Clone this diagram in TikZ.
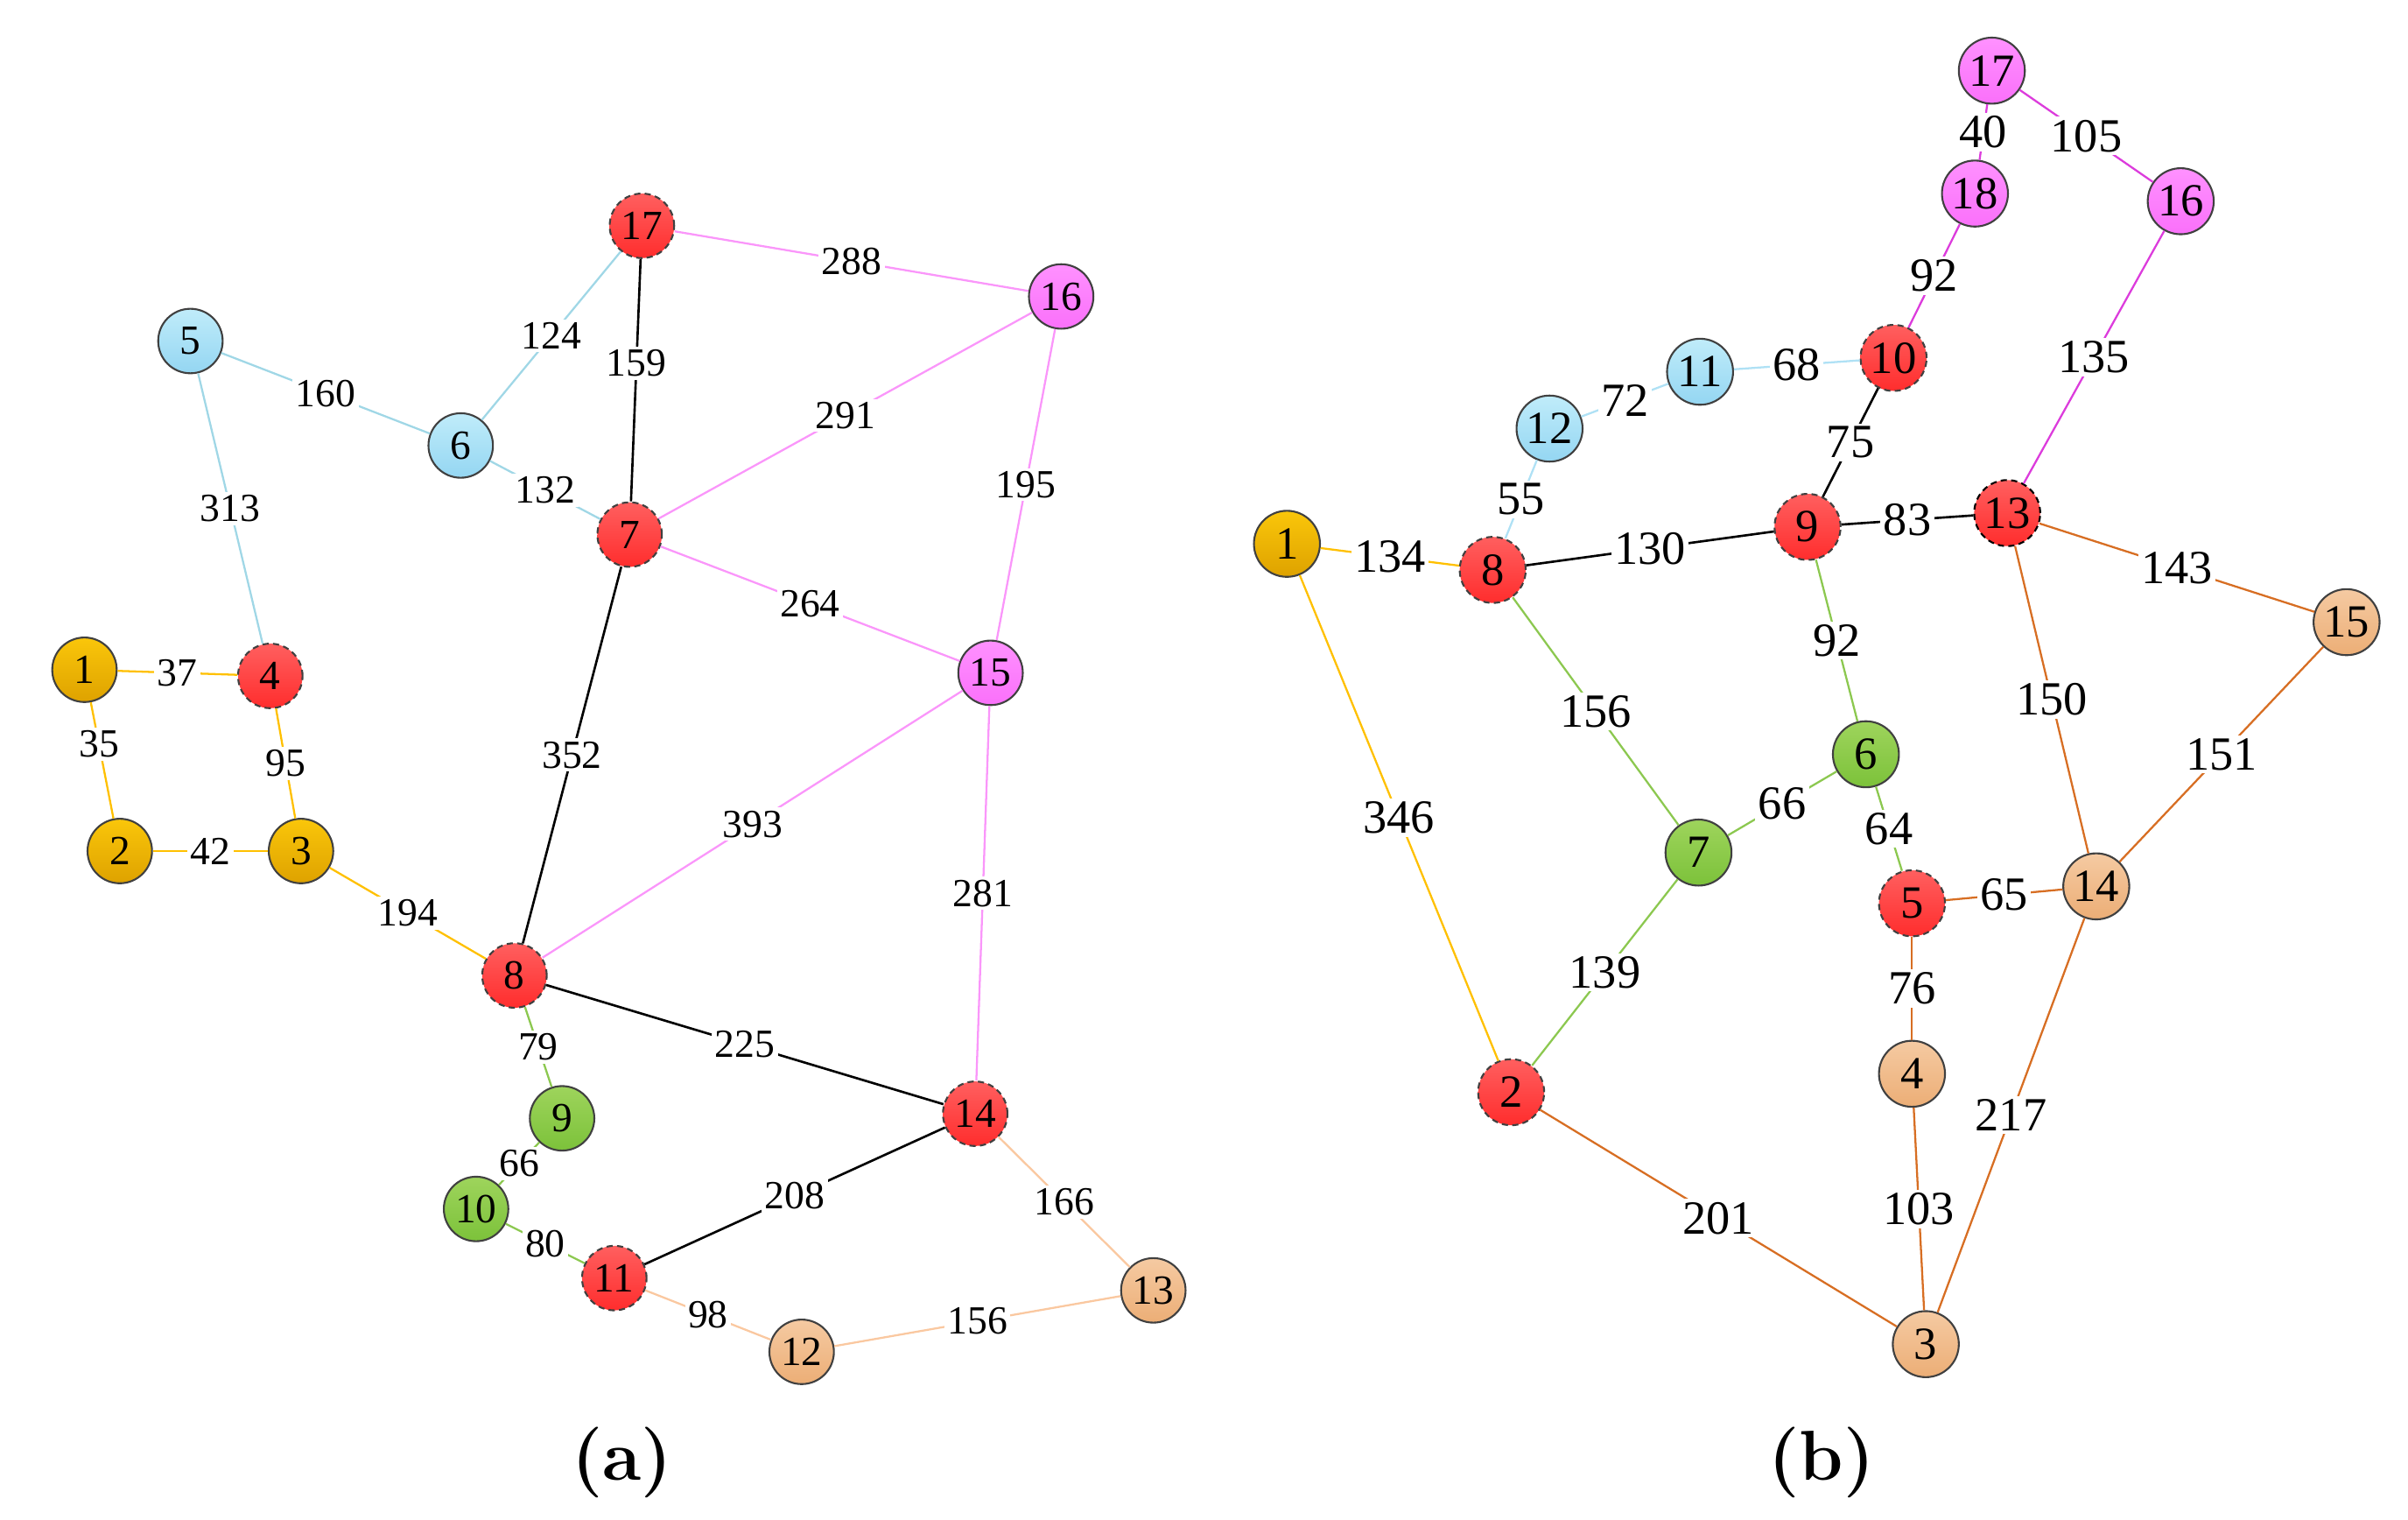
\documentclass[tikz,border=0pt]{standalone}
\usepackage{fontspec}
\newfontfamily\tnr{Liberation Serif}
\definecolor{gtop}{RGB}{250,198,10}\definecolor{gbot}{RGB}{222,162,0}
\definecolor{rtop}{RGB}{255,95,95}\definecolor{rbot}{RGB}{255,45,45}
\definecolor{btop}{RGB}{192,236,250}\definecolor{bbot}{RGB}{148,214,242}
\definecolor{mtop}{RGB}{255,145,255}\definecolor{mbot}{RGB}{250,112,250}
\definecolor{ntop}{RGB}{158,212,92}\definecolor{nbot}{RGB}{124,194,58}
\definecolor{ptop}{RGB}{245,202,162}\definecolor{pbot}{RGB}{236,174,118}
\definecolor{bord}{RGB}{64,64,64}
\definecolor{egold}{RGB}{255,192,0}
\definecolor{eblue}{RGB}{160,215,230}
\definecolor{epink}{RGB}{250,150,250}
\definecolor{egreen}{RGB}{140,200,80}
\definecolor{epeach}{RGB}{250,200,160}
\definecolor{emag}{RGB}{220,60,220}
\definecolor{eorange}{RGB}{215,110,35}
\definecolor{ebluel}{RGB}{175,225,245}
\begin{document}
\begin{tikzpicture}[x=0.5pt,y=-0.5pt,
  nd/.style={circle, draw=bord, line width=0.6pt, minimum size=21pt, inner sep=0pt, font=\tnr\fontsize{13.5}{13.5}\selectfont},
  ndb/.style={nd, minimum size=21.5pt, font=\tnr\fontsize{15}{15}\selectfont},
  ngold/.style={top color=gtop, bottom color=gbot},
  nred/.style={top color=rtop, bottom color=rbot, dash pattern=on 2pt off 1.4pt},
  nblue/.style={top color=btop, bottom color=bbot},
  nmag/.style={top color=mtop, bottom color=mbot},
  ngrn/.style={top color=ntop, bottom color=nbot},
  npch/.style={top color=ptop, bottom color=pbot},
  lbl/.style={fill=white, inner sep=1pt, font=\tnr\fontsize{13}{13}\selectfont},
  lblb/.style={fill=white, inner sep=1pt, font=\tnr\fontsize{15.5}{15.5}\selectfont},
  edge/.style={line width=0.65pt},
  cgold/.style={edge, draw=egold},
  cblue/.style={edge, draw=eblue},
  cbluel/.style={edge, draw=ebluel},
  cpink/.style={edge, draw=epink},
  cgreen/.style={edge, draw=egreen},
  cpeach/.style={edge, draw=epeach},
  cmag/.style={edge, draw=emag},
  corange/.style={edge, draw=eorange},
  cblack/.style={edge, draw=black, line width=0.75pt},
  captxt/.style={font=\fontsize{23}{23}\selectfont\bfseries}
]
\useasboundingbox (0,0) rectangle (1568,989);
% ---------------- (a) ----------------
\node[nd,ngold] (a1) at (55,436) {1};
\node[nd,ngold] (a2) at (78,554) {2};
\node[nd,ngold] (a3) at (196,554) {3};
\node[nd,nred] (a4) at (176,440) {4};
\node[nd,nblue] (a5) at (124,222) {5};
\node[nd,nblue] (a6) at (300,290) {6};
\node[nd,nred] (a7) at (410,348) {7};
\node[nd,nred] (a8) at (335,635) {8};
\node[nd,ngrn] (a9) at (366,728) {9};
\node[nd,ngrn] (a10) at (310,787) {10};
\node[nd,nred] (a11) at (400,832) {11};
\node[nd,npch] (a12) at (522,880) {12};
\node[nd,npch] (a13) at (751,840) {13};
\node[nd,nred] (a14) at (635,725) {14};
\node[nd,nmag] (a15) at (645,438) {15};
\node[nd,nmag] (a16) at (691,193) {16};
\node[nd,nred] (a17) at (418,147) {17};

\draw[cgold] (a1) -- node[lbl]{37} (a4);
\draw[cgold] (a1) -- node[lbl,pos=0.36]{35} (a2);
\draw[cgold] (a2) -- node[lbl]{42} (a3);
\draw[cgold] (a4) -- node[lbl]{95} (a3);
\draw[cblue] (a5) -- node[lbl]{313} (a4);
\draw[cblue] (a5) -- node[lbl]{160} (a6);
\draw[cblue] (a6) -- node[lbl]{124} (a17);
\draw[cblue] (a6) -- node[lbl]{132} (a7);
\draw[cblack] (a17) -- node[lbl,pos=0.43]{159} (a7);
\draw[cpink] (a17) -- node[lbl]{288} (a16);
\draw[cpink] (a7) -- node[lbl]{291} (a16);
\draw[cpink] (a7) -- node[lbl]{264} (a15);
\draw[cpink] (a16) -- node[lbl]{195} (a15);
\draw[cblack] (a7) -- node[lbl]{352} (a8);
\draw[cgold] (a3) -- node[lbl]{194} (a8);
\draw[cpink] (a15) -- node[lbl]{393} (a8);
\draw[cpink] (a15) -- node[lbl]{281} (a14);
\draw[cblack] (a8) -- node[lbl]{225} (a14);
\draw[cgreen] (a8) -- node[lbl]{79} (a9);
\draw[cgreen] (a9) -- node[lbl]{66} (a10);
\draw[cgreen] (a10) -- node[lbl]{80} (a11);
\draw[cblack] (a11) -- node[lbl]{208} (a14);
\draw[cpeach] (a11) -- node[lbl]{98} (a12);
\draw[cpeach] (a12) -- node[lbl]{156} (a13);
\draw[cpeach] (a14) -- node[lbl]{166} (a13);

\node[captxt] (capa) at (405,952) {(a)};

% ---------------- (b) ----------------
\node[ndb,ngold] (b1) at (838,354) {1};
\node[ndb,nred] (b2) at (984,711) {2};
\node[ndb,npch] (b3) at (1254,875) {3};
\node[ndb,npch] (b4) at (1245,699) {4};
\node[ndb,nred] (b5) at (1245,588) {5};
\node[ndb,ngrn] (b6) at (1215,491) {6};
\node[ndb,ngrn] (b7) at (1106,555) {7};
\node[ndb,nred] (b8) at (972,371) {8};
\node[ndb,nred] (b9) at (1177,343) {9};
\node[ndb,nred] (b10) at (1233,233) {10};
\node[ndb,nblue] (b11) at (1107,242) {11};
\node[ndb,nblue] (b12) at (1009,279) {12};
\node[ndb,nred,draw=black] (b13) at (1307,334) {13};
\node[ndb,npch] (b14) at (1365,577) {14};
\node[ndb,npch] (b15) at (1528,405) {15};
\node[ndb,nmag] (b16) at (1420,131) {16};
\node[ndb,nmag] (b17) at (1297,46) {17};
\node[ndb,nmag] (b18) at (1286,126) {18};

\draw[cmag] (b17) -- node[lblb]{40} (b18);
\draw[cmag] (b17) -- node[lblb]{105} (b16);
\draw[cmag] (b18) -- node[lblb]{92} (b10);
\draw[cmag] (b16) -- node[lblb]{135} (b13);
\draw[cbluel] (b11) -- node[lblb]{68} (b10);
\draw[cbluel] (b12) -- node[lblb]{72} (b11);
\draw[cbluel] (b12) -- node[lblb]{55} (b8);
\draw[cblack] (b10) -- node[lblb]{75} (b9);
\draw[cblack] (b8) -- node[lblb]{130} (b9);
\draw[cblack] (b9) -- node[lblb]{83} (b13);
\draw[cgold] (b1) -- node[lblb]{134} (b8);
\draw[cgold] (b1) -- node[lblb]{346} (b2);
\draw[cgreen] (b8) -- node[lblb]{156} (b7);
\draw[cgreen] (b9) -- node[lblb]{92} (b6);
\draw[cgreen] (b7) -- node[lblb]{66} (b6);
\draw[cgreen] (b6) -- node[lblb]{64} (b5);
\draw[cgreen] (b7) -- node[lblb]{139} (b2);
\draw[corange] (b13) -- node[lblb]{143} (b15);
\draw[corange] (b13) -- node[lblb]{150} (b14);
\draw[corange] (b15) -- node[lblb]{151} (b14);
\draw[corange] (b5) -- node[lblb]{65} (b14);
\draw[corange] (b5) -- node[lblb]{76} (b4);
\draw[corange] (b4) -- node[lblb]{103} (b3);
\draw[corange] (b14) -- node[lblb]{217} (b3);
\draw[corange] (b2) -- node[lblb]{201} (b3);

\node[captxt] (capb) at (1186,952) {(b)};
\end{tikzpicture}
\end{document}
